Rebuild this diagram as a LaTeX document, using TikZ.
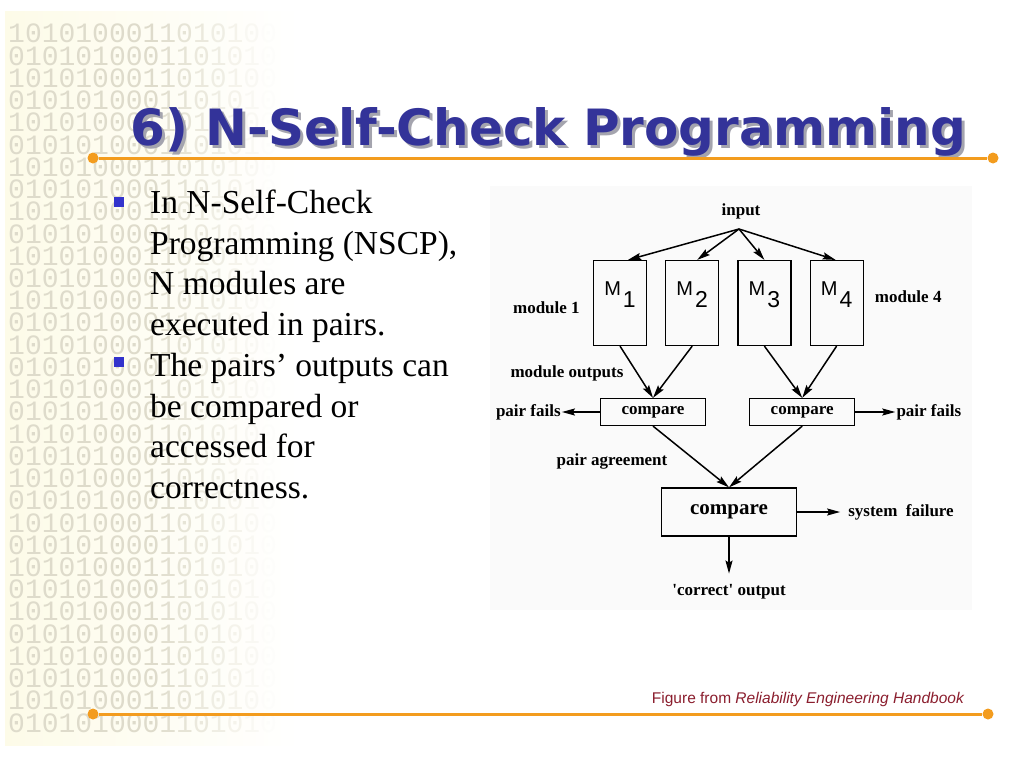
\documentclass[tikz,border=0pt]{standalone}
\usepackage{fontspec}
\setmainfont{Liberation Serif}
\newfontfamily\headfont{DejaVu Sans}
\newfontfamily\arialfont{Liberation Sans}
\newfontfamily\bitfont{Liberation Mono}
\usepackage{xcolor}
\usepackage{tikz}
\usetikzlibrary{arrows.meta,positioning,calc}
\definecolor{navy}{HTML}{333399}
\definecolor{bullblue}{HTML}{3333CC}
\definecolor{orangex}{HTML}{F39C1E}
\definecolor{maroon}{HTML}{8B1E2E}
\definecolor{cream}{HTML}{FDFBE8}
\definecolor{bitgrey}{HTML}{DEDBCB}
\definecolor{figbg}{HTML}{FAFAFA}
\definecolor{shadowx}{HTML}{A4A4AE}

\newcommand{\msub}[1]{{\arialfont\fontsize{20}{20}\selectfont M\hspace{2pt}\raisebox{-12pt}{\fontsize{23}{23}\selectfont #1}}}

\begin{document}
\begin{tikzpicture}[x=1pt,y=-1pt,
  node distance=18pt,
  modbox/.style={draw,line width=1.2pt,minimum width=53pt,minimum height=85pt,
                 inner sep=0pt,text depth=28pt},
  cmpbox/.style={draw,line width=1.2pt,minimum width=105pt,minimum height=27pt,
                 inner sep=0pt,font=\fontsize{17}{19}\selectfont\bfseries},
  votebox/.style={cmpbox,minimum width=135pt,minimum height=48pt,
                  font=\fontsize{21}{24}\selectfont\bfseries},
  lab/.style={inner sep=1pt,font=\fontsize{17}{19}\selectfont\bfseries},
  link/.style={-{Stealth[length=13pt,width=7pt,inset=2pt]},line width=1.5pt},
  bul/.style={anchor=base west,align=left,inner sep=0pt,font=\fontsize{33.5}{40.5}\selectfont},
  sq/.style={fill=bullblue,minimum size=10pt,inner sep=0pt},
  bit/.style={anchor=base west,inner sep=0pt,text=bitgrey,font=\bitfont\fontsize{28}{28}\selectfont},
  dot/.style={circle,fill=orangex,minimum size=11pt,inner sep=0pt},
  rule/.style={draw=orangex,line width=3pt}
]
\useasboundingbox (0,0) rectangle (1024,768);
\fill[white] (0,0) rectangle (1024,768);

% binary backdrop
\shade[left color=cream,middle color=cream,right color=white] (5,12) rectangle (300,745);
\foreach \r in {0,...,31}{
  \ifodd\r \def\bits{0,1,0,1,0,1,0,0,0,1,1,0,1,0,1,0}\else \def\bits{1,0,1,0,1,0,0,0,1,1,0,1,0,1,0,0}\fi
  \foreach \d [count=\c from 0] in \bits{
    \pgfmathsetmacro\p{max(0.04,min(1,1-0.14*(\c-8)))}
    \node[bit,text opacity=\p] (bit-\r-\c) at (8+16.8*\c,43+22.23*\r) {\d};
  }
}

% title and rules
\node[anchor=base west,text=shadowx,font=\headfont\bfseries\fontsize{50}{50}\selectfont] (ttlshadow) at (130,148) {6) N-Self-Check Programming};
\node[anchor=base west,text=navy,font=\headfont\bfseries\fontsize{50}{50}\selectfont] (ttl) at (127,145) {6) N-Self-Check Programming};
\node[dot] (tl) at (93,158) {};
\node[dot] (tr) at (993,158) {};
\draw[rule] (tl) -- (tr);
\node[dot] (bl) at (93,714) {};
\node[dot] (br) at (988,714) {};
\draw[rule] (bl) -- (br);

% bullets (anchored on the last line)
\node[sq] (sq1) at (119,202) {};
\node[bul] (txt1) at (150,335) {In N-Self-Check\\Programming (NSCP),\\N modules are\\executed in pairs.};
\node[sq] (sq2) at (119,362) {};
\node[bul] (txt2) at (150,498) {The pairs’ outputs can\\be compared or\\accessed for\\correctness.};

% figure
\fill[figbg] (490,186) rectangle (972,610);
\node[lab] (input) at (741,211) {input};
\coordinate (apex) at (739,229);
\node[modbox] (m1) at (620,303) {\msub{1}};
\node[modbox,right=of m1] (m2) {\msub{2}};
\node[modbox,right=of m2] (m3) {\msub{3}};
\node[modbox,right=of m3] (m4) {\msub{4}};
\node[lab,left=12pt of m1,yshift=-5pt] (lab1) {module 1};
\node[lab,right=10pt of m4,yshift=6pt] (lab4) {module 4};
\node[lab] (outs) at (567,373) {module outputs};

\node[cmpbox] (cmp1) at (653,412) {compare};
\node[cmpbox,right=43pt of cmp1] (cmp2) {compare};
\node[lab,left=38pt of cmp1] (pfl) {pair fails};
\node[lab,right=40pt of cmp2] (pfr) {pair fails};
\node[lab] (agree) at (612,461) {pair agreement};

\node[votebox] (vote) at (729,512) {compare\hspace{16pt}};
\node[lab,right=50pt of vote] (sysf) {system\ \ failure};
\node[lab,below=47pt of vote] (corr) {\textquotesingle correct\textquotesingle\ output};

\foreach \m/\s in {m1/8,m2/5,m3/0,m4/-1}{\draw[link] (apex) -- ([xshift=\s]\m.north);}
\foreach \m in {m1,m2}{\draw[link] (\m.south) -- (cmp1.north);}
\foreach \m in {m3,m4}{\draw[link] (\m.south) -- (cmp2.north);}
\draw[link] (cmp1) -- (pfl);
\draw[link] (cmp2) -- (pfr);
\foreach \c in {cmp1,cmp2}{\draw[link] (\c.south) -- (vote.north);}
\draw[link,shorten >=7pt] (vote) -- (sysf);
\draw[link,shorten >=10pt] (vote) -- (corr);

% source line
\node[anchor=base east,text=maroon,font=\arialfont\fontsize{15.5}{18}\selectfont] (src) at (968,703) {Figure from \textit{Reliability Engineering Handbook}};
\end{tikzpicture}
\end{document}
